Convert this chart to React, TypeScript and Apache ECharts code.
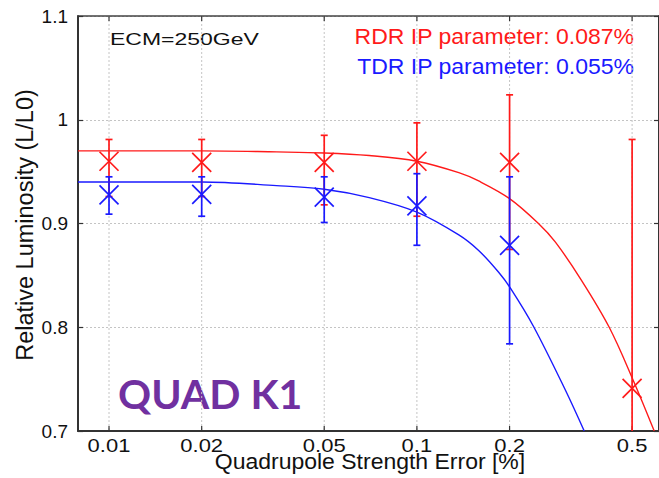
import React, { useEffect, useRef } from 'react';
import * as echarts from 'echarts';

const X_MIN = 0.00793;
const X_MAX = 0.6114;
const Y_MIN = 0.7;
const Y_MAX = 1.1;

const xTicks = [0.01, 0.02, 0.05, 0.1, 0.2, 0.5];
const xTickLabels = ['0.01', '0.02', '0.05', '0.1', '0.2', '0.5'];

const rdrX = [0.01, 0.02, 0.05, 0.1, 0.2, 0.5];
const rdrMean = [0.96, 0.959, 0.959, 0.96, 0.959, 0.741];
const rdrHigh = [0.981, 0.981, 0.985, 0.997, 1.024, 0.981];
const rdrLow = [0.926, 0.926, 0.918, 0.907, 0.875, 0.45];

const tdrX = [0.01, 0.02, 0.05, 0.1, 0.2];
const tdrMean = [0.9275, 0.928, 0.9255, 0.917, 0.879];
const tdrHigh = [0.945, 0.945, 0.945, 0.948, 0.945];
const tdrLow = [0.909, 0.907, 0.901, 0.879, 0.784];

const rdrFitX = [0.00793, 0.02, 0.035, 0.05, 0.07, 0.1, 0.1368, 0.1587, 0.2, 0.2482, 0.2818, 0.342, 0.4213, 0.504, 0.59];
const rdrFitY = [0.97, 0.97, 0.969, 0.968, 0.9655, 0.96, 0.949, 0.941, 0.924, 0.9, 0.882, 0.8455, 0.8, 0.749, 0.7];

const tdrFitX = [0.00793, 0.02, 0.035, 0.05, 0.07, 0.1, 0.1368, 0.1587, 0.1843, 0.2015, 0.239, 0.3035, 0.3495];
const tdrFitY = [0.94, 0.94, 0.9365, 0.933, 0.925, 0.911, 0.889, 0.874, 0.853, 0.8375, 0.801, 0.7395, 0.7];

const RED = '#ff1a1a';
const BLUE = '#1a1aff';
const FONT = '"Liberation Sans", Arial, sans-serif';

function zip(a: number[], b: number[]) {
  return a.map((v, i) => [v, b[i]]);
}

function errRender(color: string) {
  return (params: any, api: any) => {
    const x = api.value(0);
    const m = api.value(1);
    const lo = api.value(2);
    const hi = api.value(3);
    const pm = api.coord([x, m]);
    const pl = api.coord([x, lo]);
    const ph = api.coord([x, hi]);
    const s = 9.5;
    const c = 3.5;
    const st = { stroke: color, lineWidth: 1.7, fill: 'none' };
    return {
      type: 'group',
      children: [
        { type: 'line', shape: { x1: pl[0], y1: pl[1], x2: ph[0], y2: ph[1] }, style: st },
        { type: 'line', shape: { x1: ph[0] - c, y1: ph[1], x2: ph[0] + c, y2: ph[1] }, style: st },
        { type: 'line', shape: { x1: pl[0] - c, y1: pl[1], x2: pl[0] + c, y2: pl[1] }, style: st },
        { type: 'line', shape: { x1: pm[0] - s, y1: pm[1] - s, x2: pm[0] + s, y2: pm[1] + s }, style: st },
        { type: 'line', shape: { x1: pm[0] - s, y1: pm[1] + s, x2: pm[0] + s, y2: pm[1] - s }, style: st },
      ],
    };
  };
}

export default function App() {
  const ref = useRef<HTMLDivElement>(null);
  useEffect(() => {
    if (!ref.current) return;
    const chart = echarts.init(ref.current, null, { renderer: 'svg' });
    const option: any = {
      animation: false,
      backgroundColor: '#ffffff',
      grid: { left: 78, top: 16, width: 583, height: 415, show: false },
      xAxis: [
        {
          type: 'log',
          logBase: 10,
          min: X_MIN,
          max: X_MAX,
          axisLine: { show: true, lineStyle: { color: '#333', width: 2 } },
          axisTick: { show: false },
          axisLabel: { show: false },
          splitLine: { show: false },
          minorTick: { show: false },
        },
        {
          type: 'log',
          logBase: 10,
          position: 'top',
          min: X_MIN,
          max: X_MAX,
          axisLine: { show: true, lineStyle: { color: '#444', width: 1.5 } },
          axisTick: { show: false },
          axisLabel: { show: false },
          splitLine: { show: false },
        },
      ],
      yAxis: [
        {
          type: 'value',
          min: Y_MIN,
          max: Y_MAX,
          interval: 0.1,
          axisLine: { show: true, lineStyle: { color: '#333', width: 2 } },
          axisTick: { show: true, inside: true, length: 5, lineStyle: { color: '#333', width: 1.2 } },
          axisLabel: { fontSize: 19, color: '#111', fontFamily: FONT, margin: 10 },
          splitLine: { show: true, lineStyle: { color: '#c4c4c4', type: [2, 2], width: 1 } },
        },
        {
          type: 'value',
          position: 'right',
          min: Y_MIN,
          max: Y_MAX,
          interval: 0.1,
          axisLine: { show: true, lineStyle: { color: '#333', width: 2 } },
          axisTick: { show: true, inside: true, length: 5, lineStyle: { color: '#333', width: 1.2 } },
          axisLabel: { show: false },
          splitLine: { show: false },
        },
      ],
      series: [
        {
          type: 'custom',
          name: 'xticks',
          silent: true,
          clip: false,
          z: 1,
          encode: { x: 0, y: 1 },
          data: xTicks.map((v) => [v, Y_MIN]),
          renderItem: (params: any, api: any) => {
            const v = api.value(0);
            const top = api.coord([v, Y_MAX]);
            const bot = api.coord([v, Y_MIN]);
            const tk = { stroke: '#333', lineWidth: 1.2 };
            return {
              type: 'group',
              children: [
                {
                  type: 'line',
                  shape: { x1: top[0], y1: top[1], x2: bot[0], y2: bot[1] },
                  style: { stroke: '#c4c4c4', lineWidth: 1, lineDash: [2, 2] },
                },
                { type: 'line', shape: { x1: bot[0], y1: bot[1], x2: bot[0], y2: bot[1] - 5 }, style: tk },
                { type: 'line', shape: { x1: top[0], y1: top[1], x2: top[0], y2: top[1] + 5 }, style: tk },
              ],
            };
          },
        },
        {
          type: 'custom',
          name: 'xlabels',
          silent: true,
          clip: false,
          z: 2,
          encode: { x: 0, y: 1 },
          data: xTicks.map((v) => [v, Y_MIN]),
          renderItem: (params: any, api: any) => {
            const bot = api.coord([api.value(0), Y_MIN]);
            return {
              type: 'text',
              x: bot[0],
              y: bot[1] + 15,
              scaleY: 0.82,
              style: {
                text: xTickLabels[params.dataIndex],
                font: '22px "Liberation Sans", Arial, sans-serif',
                fill: '#111',
                textAlign: 'center',
                textVerticalAlign: 'middle',
                align: 'center',
                verticalAlign: 'middle',
              },
            };
          },
        },
        {
          type: 'line',
          name: 'RDR fit',
          data: zip(rdrFitX, rdrFitY),
          smooth: 0.35,
          showSymbol: false,
          symbol: 'none',
          lineStyle: { color: RED, width: 1.4 },
          z: 3,
        },
        {
          type: 'line',
          name: 'TDR fit',
          data: zip(tdrFitX, tdrFitY),
          smooth: 0.35,
          showSymbol: false,
          symbol: 'none',
          lineStyle: { color: BLUE, width: 1.4 },
          z: 3,
        },
        {
          type: 'custom',
          name: 'RDR',
          clip: true,
          z: 4,
          encode: { x: 0, y: 1 },
          data: rdrX.map((x, i) => [x, rdrMean[i], rdrLow[i], rdrHigh[i]]),
          renderItem: errRender(RED),
        },
        {
          type: 'custom',
          name: 'TDR',
          clip: true,
          z: 5,
          encode: { x: 0, y: 1 },
          data: tdrX.map((x, i) => [x, tdrMean[i], tdrLow[i], tdrHigh[i]]),
          renderItem: errRender(BLUE),
        },
      ],
      graphic: [
        {
          type: 'text',
          x: 110,
          y: 39,
          scaleY: 0.72,
          style: { text: 'ECM=250GeV', fontSize: 23, fontFamily: FONT, fill: '#111', align: 'left', verticalAlign: 'middle' },
        },
        {
          type: 'text',
          x: 634,
          y: 37,
          scaleY: 0.95,
          style: { text: 'RDR IP parameter: 0.087%', fontSize: 23, fontFamily: FONT, fill: RED, align: 'right', verticalAlign: 'middle' },
        },
        {
          type: 'text',
          x: 634,
          y: 67,
          scaleY: 0.95,
          style: { text: 'TDR IP parameter: 0.055%', fontSize: 23, fontFamily: FONT, fill: BLUE, align: 'right', verticalAlign: 'middle' },
        },
        {
          type: 'text',
          x: 118,
          y: 393,
          style: { text: 'QUAD K1', fontSize: 41, fontWeight: 'bold', fontFamily: 'Lato, "Open Sans", sans-serif', fill: '#7030a0', align: 'left', verticalAlign: 'middle' },
        },
        {
          type: 'text',
          x: 25,
          y: 225,
          rotation: Math.PI / 2,
          style: { text: 'Relative Luminosity (L/L0)', fontSize: 23.5, fontFamily: FONT, fill: '#111', align: 'center', verticalAlign: 'middle' },
        },
        {
          type: 'text',
          x: 370,
          y: 462,
          scaleY: 0.92,
          style: { text: 'Quadrupole Strength Error [%]', fontSize: 23, fontFamily: FONT, fill: '#111', align: 'center', verticalAlign: 'middle' },
        },
      ],
    };
    chart.setOption(option);
    return () => chart.dispose();
  }, []);
  return <div ref={ref} style={{ position: 'absolute', left: 0, top: 0, width: 659, height: 478 }} />;
}
